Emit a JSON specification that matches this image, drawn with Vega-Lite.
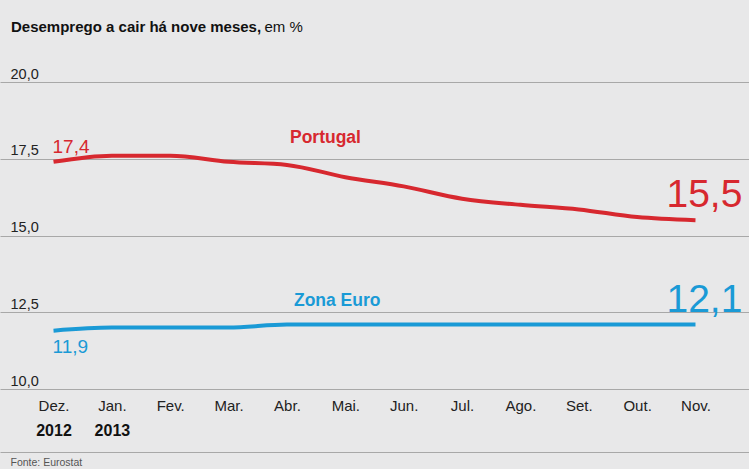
{
  "$schema": "https://vega.github.io/schema/vega-lite/v6.json",
  "width": 749,
  "height": 307,
  "autosize": {"type": "none"},
  "padding": {"left": 0, "top": 82, "right": 0, "bottom": 80},
  "background": "#e8e8e9",
  "config": {
    "view": {"stroke": null},
    "font": "Liberation Sans",
    "locale": {"number": {"decimal": ",", "thousands": ".", "grouping": [3], "currency": ["", " €"]}}
  },
  "title": {
    "text": "Desemprego a cair há nove meses,",
    "anchor": "start",
    "frame": "group",
    "dx": 11,
    "offset": -28,
    "baseline": "alphabetic",
    "fontSize": 15,
    "fontWeight": "bold",
    "color": "#111111",
    "font": "Liberation Sans"
  },
  "data": {
    "values": [
      {"month": "Dez.", "series": "Portugal", "value": 17.4},
      {"month": "Jan.", "series": "Portugal", "value": 17.6},
      {"month": "Fev.", "series": "Portugal", "value": 17.6},
      {"month": "Mar.", "series": "Portugal", "value": 17.4},
      {"month": "Abr.", "series": "Portugal", "value": 17.3},
      {"month": "Mai.", "series": "Portugal", "value": 16.9},
      {"month": "Jun.", "series": "Portugal", "value": 16.6},
      {"month": "Jul.", "series": "Portugal", "value": 16.2},
      {"month": "Ago.", "series": "Portugal", "value": 16.0},
      {"month": "Set.", "series": "Portugal", "value": 15.85},
      {"month": "Out.", "series": "Portugal", "value": 15.6},
      {"month": "Nov.", "series": "Portugal", "value": 15.5},
      {"month": "Dez.", "series": "Zona Euro", "value": 11.9},
      {"month": "Jan.", "series": "Zona Euro", "value": 12.0},
      {"month": "Fev.", "series": "Zona Euro", "value": 12.0},
      {"month": "Mar.", "series": "Zona Euro", "value": 12.0},
      {"month": "Abr.", "series": "Zona Euro", "value": 12.1},
      {"month": "Mai.", "series": "Zona Euro", "value": 12.1},
      {"month": "Jun.", "series": "Zona Euro", "value": 12.1},
      {"month": "Jul.", "series": "Zona Euro", "value": 12.1},
      {"month": "Ago.", "series": "Zona Euro", "value": 12.1},
      {"month": "Set.", "series": "Zona Euro", "value": 12.1},
      {"month": "Out.", "series": "Zona Euro", "value": 12.1},
      {"month": "Nov.", "series": "Zona Euro", "value": 12.1}
    ]
  },
  "layer": [
    {
      "mark": {"type": "line", "strokeWidth": 4, "interpolate": "monotone"},
      "encoding": {
        "x": {
          "field": "month", "type": "ordinal",
          "scale": {"type": "point", "domain": ["Dez.", "Jan.", "Fev.", "Mar.", "Abr.", "Mai.", "Jun.", "Jul.", "Ago.", "Set.", "Out.", "Nov."], "padding": 0.917},
          "axis": {"orient": "bottom", "title": null, "labelAngle": 0, "labelFontSize": 15, "labelColor": "#222222", "labelPadding": 9, "domain": false, "ticks": false, "tickSize": 0, "grid": false}
        },
        "y": {
          "field": "value", "type": "quantitative",
          "scale": {"domain": [10, 20], "nice": false, "zero": false},
          "axis": {
            "values": [10, 12.5, 15, 17.5, 20], "format": ".1f",
            "title": "em %", "titleX": 264, "titleY": -51, "titleAngle": 0, "titleAlign": "left", "titleBaseline": "alphabetic",
            "titleFontSize": 15, "titleFontWeight": "normal", "titleColor": "#111111",
            "labelAlign": "left", "labelBaseline": "alphabetic", "labelPadding": -10, "labelOffset": -4,
            "ticks": false, "tickSize": 0, "domain": false, "gridColor": "#a8a8a8", "gridWidth": 1,
            "labelFontSize": 14.5, "labelColor": "#222222", "labelOverlap": false
          }
        },
        "color": {"field": "series", "type": "nominal", "scale": {"domain": ["Portugal", "Zona Euro"], "range": ["#d7282f", "#1a9ad6"]}, "legend": null}
      }
    },
    {
      "transform": [{"filter": "datum.series == 'Portugal' && datum.month == 'Dez.'"}],
      "mark": {"type": "text", "align": "left", "baseline": "alphabetic", "dx": -1, "dy": -9, "fontSize": 19},
      "encoding": {
        "x": {
          "field": "month", "type": "ordinal",
          "axis": {"orient": "bottom", "title": null, "labelAngle": 0, "labelExpr": "datum.value == 'Dez.' ? '2012' : datum.value == 'Jan.' ? '2013' : ''", "labelFontSize": 16, "labelFontWeight": "bold", "labelColor": "#111111", "labelPadding": 33, "domain": false, "ticks": false, "tickSize": 0, "grid": false}
        },
        "y": {"field": "value", "type": "quantitative", "axis": null},
        "text": {"field": "value", "type": "quantitative", "format": ".1f"},
        "color": {"field": "series", "type": "nominal", "legend": null}
      }
    },
    {
      "transform": [{"filter": "datum.month == 'Nov.'"}],
      "mark": {"type": "text", "align": "left", "baseline": "alphabetic", "dx": -29, "dy": -13, "fontSize": 39},
      "encoding": {
        "x": {
          "field": "month", "type": "ordinal",
          "axis": {"orient": "bottom", "offset": 63, "labels": false, "ticks": false, "tickSize": 0, "grid": false, "domain": true, "domainColor": "#a8a8a8", "domainWidth": 1,
            "title": "Fonte: Eurostat", "titleX": 10, "titleY": 13, "titleAlign": "left", "titleBaseline": "alphabetic", "titleFontSize": 10.5, "titleFontWeight": "normal", "titleColor": "#555555"}
        },
        "y": {"field": "value", "type": "quantitative", "axis": null},
        "text": {"field": "value", "type": "quantitative", "format": ".1f"},
        "color": {"field": "series", "type": "nominal", "legend": null}
      }
    },
    {
      "transform": [{"filter": "datum.series == 'Zona Euro' && datum.month == 'Dez.'"}],
      "mark": {"type": "text", "align": "left", "baseline": "alphabetic", "dx": -1, "dy": 22, "fontSize": 19},
      "encoding": {
        "x": {"field": "month", "type": "ordinal", "axis": null},
        "y": {"field": "value", "type": "quantitative", "axis": null},
        "text": {"field": "value", "type": "quantitative", "format": ".1f"},
        "color": {"field": "series", "type": "nominal", "legend": null}
      }
    },
    {
      "transform": [{"filter": "datum.series == 'Portugal' && datum.month == 'Abr.'"}],
      "mark": {"type": "text", "align": "left", "baseline": "alphabetic", "dx": 3, "dy": -22, "fontSize": 17.5, "fontWeight": "bold"},
      "encoding": {
        "x": {"field": "month", "type": "ordinal", "axis": null},
        "y": {"field": "value", "type": "quantitative", "axis": null},
        "text": {"field": "series", "type": "nominal"},
        "color": {"field": "series", "type": "nominal", "legend": null}
      }
    },
    {
      "transform": [{"filter": "datum.series == 'Zona Euro' && datum.month == 'Abr.'"}],
      "mark": {"type": "text", "align": "left", "baseline": "alphabetic", "dx": 7, "dy": -19, "fontSize": 17.5, "fontWeight": "bold"},
      "encoding": {
        "x": {"field": "month", "type": "ordinal", "axis": null},
        "y": {"field": "value", "type": "quantitative", "axis": null},
        "text": {"field": "series", "type": "nominal"},
        "color": {"field": "series", "type": "nominal", "legend": null}
      }
    }
  ],
  "resolve": {"axis": {"x": "independent", "y": "independent"}}
}
